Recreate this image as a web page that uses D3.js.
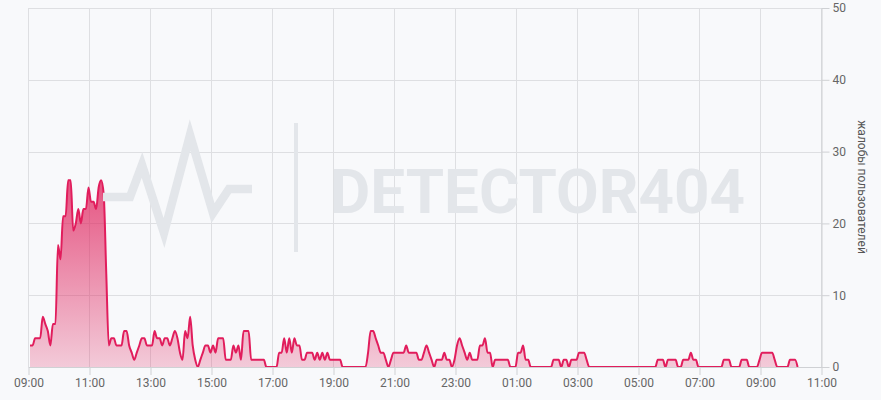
<!DOCTYPE html>
<html>
<head>
<meta charset="utf-8">
<script src="https://cdn.jsdelivr.net/npm/d3@7"></script>
<style>
    body { margin: 0; background: #f8f9fb; }
    svg text { font-family: Roboto, "Liberation Sans", sans-serif; }
</style>
</head>
<body>
<div id="chart-area"></div>
<script>
// Time range and sampling
var startTime = "2024-01-01T09:00";
var endTime = "2024-01-02T11:00";
var firstSample = "2024-01-01T09:03";
var stepMinutes = 5;

// Complaints per 5 minutes
var complaints = [
    3, 3, 4, 4, 4, 7, 6, 5, 3, 6,
    6, 17, 15, 21, 21, 26, 26, 19, 20, 22,
    20, 22, 22, 25, 23, 23, 22, 25, 26, 24,
    13, 3, 4, 4, 3, 3, 3, 5, 5, 3,
    2, 1, 2, 3, 4, 4, 3, 3, 3, 5,
    4, 4, 3, 4, 4, 3, 4, 5, 4, 2,
    1, 5, 4, 7, 3, 1, 0, 1, 2, 3,
    3, 2, 3, 2, 4, 4, 4, 1, 1, 1,
    3, 2, 3, 1, 5, 5, 5, 1, 1, 1,
    1, 1, 1, 0, 0, 0, 0, 0, 2, 2,
    4, 2, 4, 2, 4, 3, 3, 1, 1, 2,
    2, 2, 1, 2, 1, 2, 1, 2, 1, 1,
    1, 1, 1, 0, 0, 0, 0, 0, 0, 0,
    0, 0, 0, 2, 5, 5, 4, 3, 2, 2,
    1, 0, 1, 2, 2, 2, 2, 2, 3, 2,
    2, 2, 2, 1, 1, 2, 3, 2, 1, 0,
    1, 1, 1, 2, 1, 1, 0, 1, 3, 4,
    3, 2, 1, 2, 1, 1, 1, 3, 3, 4,
    2, 2, 0, 1, 1, 1, 1, 1, 1, 0,
    0, 0, 2, 2, 3, 1, 1, 0, 0, 0,
    0, 0, 0, 0, 0, 0, 1, 1, 1, 0,
    1, 1, 0, 1, 1, 1, 2, 2, 2, 1,
    0, 0, 0, 0, 0, 0, 0, 0, 0, 0,
    0, 0, 0, 0, 0, 0, 0, 0, 0, 0,
    0, 0, 0, 0, 0, 0, 0, 1, 1, 1,
    0, 1, 1, 1, 1, 0, 0, 1, 1, 1,
    2, 1, 1, 0, 0, 0, 0, 0, 0, 0,
    0, 0, 0, 1, 1, 1, 0, 0, 0, 0,
    1, 1, 1, 0, 0, 0, 0, 1, 2, 2,
    2, 2, 2, 1, 0, 0, 0, 0, 0, 1,
    1, 1, 0
];

var yTicks = [0, 10, 20, 30, 40, 50];
var tickEveryHours = 2;
var yLabel = "жалобы пользователей";
var watermarkText = "DETECTOR404";

var parse = d3.timeParse("%Y-%m-%dT%H:%M");
var t0 = parse(startTime);
var t1 = parse(endTime);
var s0 = parse(firstSample);
var data = complaints.map((v, i) => ({ time: d3.timeMinute.offset(s0, i * stepMinutes), value: v }));

//Margin
var margin = { top: 8, left: 28.5 };
var width = 793;
var height = 359;

var svg = d3.select("#chart-area")
    .append("svg")
    .attr("width", 881)
    .attr("height", 400);

svg.append("rect")
    .attr("width", 881)
    .attr("height", 400)
    .attr("fill", "#f8f9fb");

var g = svg.append("g")
    .attr("transform", "translate(" + margin.left + ", " + margin.top + ")");

// SCALES
var x = d3.scaleTime()
    .domain([t0, t1])
    .range([0, width]);

var y = d3.scaleLinear()
    .domain([0, 50])
    .range([height, 0]);

// ticks every 2 hours starting at 09:00
var hourTicks = d3.timeHour.range(t0, d3.timeMinute.offset(t1, 1), tickEveryHours);

// Grid
var grid = g.append("g").attr("class", "grid");
grid.selectAll(".vgrid")
    .data(hourTicks)
    .enter().append("line")
    .attr("x1", (d) => x(d)).attr("x2", (d) => x(d))
    .attr("y1", 0).attr("y2", height)
    .attr("stroke", "#dedfe2");
grid.selectAll(".hgrid")
    .data(yTicks)
    .enter().append("line")
    .attr("x1", 0).attr("x2", width)
    .attr("y1", (d) => Math.round(y(d)) + 0.5).attr("y2", (d) => Math.round(y(d)) + 0.5)
    .attr("stroke", "#dedfe2");

// Watermark
var wm = svg.append("g").attr("class", "watermark");
wm.append("polyline")
    .attr("points", "103,197 130,197 142,165 164,233 190,135 213,213 229,189 252,189")
    .attr("fill", "none")
    .attr("stroke", "#e3e6ea")
    .attr("stroke-width", 8.5);
wm.append("rect")
    .attr("x", 294).attr("y", 123)
    .attr("width", 4).attr("height", 129)
    .attr("fill", "#e3e6ea");
wm.append("text")
    .attr("x", 330).attr("y", 213)
    .attr("font-size", "62px")
    .attr("font-weight", "bold")
    .attr("textLength", 415)
    .attr("lengthAdjust", "spacingAndGlyphs")
    .attr("fill", "#e3e6ea")
    .text(watermarkText);

// Gradient for the area
var grad = svg.append("defs").append("linearGradient")
    .attr("id", "fillGrad")
    .attr("gradientUnits", "userSpaceOnUse")
    .attr("x1", 0).attr("x2", 0)
    .attr("y1", y(28)).attr("y2", height);
grad.append("stop").attr("offset", 0).attr("stop-color", "#e0245e").attr("stop-opacity", 0.82);
grad.append("stop").attr("offset", 1).attr("stop-color", "#e0245e").attr("stop-opacity", 0.22);

var area = d3.area()
    .x((d) => x(d.time))
    .y0(height)
    .y1((d) => y(d.value))
    .curve(d3.curveMonotoneX);

var line = d3.line()
    .x((d) => x(d.time))
    .y((d) => y(d.value))
    .curve(d3.curveMonotoneX);

g.append("path")
    .datum(data)
    .attr("d", area)
    .attr("fill", "url(#fillGrad)");

g.append("path")
    .datum(data)
    .attr("d", line)
    .attr("fill", "none")
    .attr("stroke", "#e11d5c")
    .attr("stroke-width", 2)
    .attr("stroke-linejoin", "round");

//---AXES
var bottomAxis = d3.axisBottom(x)
    .tickValues(hourTicks)
    .tickFormat(d3.timeFormat("%H:%M"))
    .tickSize(8)
    .tickSizeOuter(0)
    .tickPadding(3);

var xAxis = g.append("g")
    .attr("class", "bottom axis")
    .attr("transform", "translate(0, " + height + ")")
    .call(bottomAxis);

var rightAxis = d3.axisRight(y)
    .tickValues(yTicks)
    .tickSize(8)
    .tickSizeOuter(0)
    .tickPadding(3);

var yAxis = g.append("g")
    .attr("class", "right axis")
    .attr("transform", "translate(" + width + ", 0)")
    .call(rightAxis);

[xAxis, yAxis].forEach((a) => {
    a.select(".domain").attr("stroke", "#cfd1d4");
    a.selectAll(".tick line").attr("stroke", "#cfd1d4");
    a.selectAll(".tick text")
        .attr("fill", "#666")
        .attr("font-size", "12px")
        .style("font-family", "Roboto, 'Liberation Sans', sans-serif");
});

// Y Label
svg.append("text")
    .attr("transform", "translate(862, 187) rotate(90)")
    .attr("text-anchor", "middle")
    .attr("dy", "0.35em")
    .attr("font-size", "12px")
    .attr("fill", "#555")
    .text(yLabel);
</script>
</body>
</html>
